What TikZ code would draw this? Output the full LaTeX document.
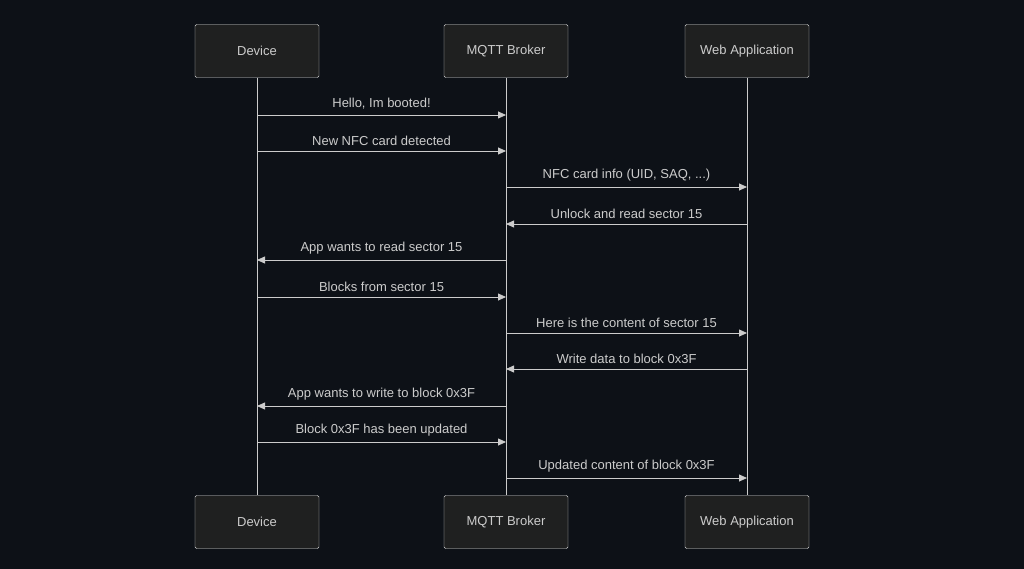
\documentclass[tikz,border=0pt]{standalone}
\usepackage{fontspec}
\setmainfont{Liberation Sans}
\usetikzlibrary{arrows.meta}
\definecolor{bgc}{HTML}{0D1117}
\definecolor{boxc}{HTML}{1F2020}
\definecolor{linec}{HTML}{CCCCCC}
\begin{document}
\begin{tikzpicture}[x=1pt,y=-1pt,
    actor/.style={draw=linec!70,fill=boxc,rounded corners=1.5pt,minimum width=124pt,minimum height=53pt,text=linec,font=\fontsize{13}{15}\selectfont},
    msg/.style={draw=linec,line width=0.8pt,-{Triangle[length=8pt,width=7pt]}},
    lbl/.style={text=linec,font=\fontsize{13}{15}\selectfont,above=2pt}]
    \fill[bgc] (0,0) rectangle (1024,569);
    \useasboundingbox (0,0) rectangle (1024,569);

    % Actors
    \node[actor] (dev) at (257,51) {Device};
    \node[actor] (brk) at (506,51) {MQTT Broker};
    \node[actor] (web) at (747,51) {Web Application};
    \node[actor] (devb) at (257,522) {Device};
    \node[actor] (brkb) at (506,522) {MQTT Broker};
    \node[actor] (webb) at (747,522) {Web Application};

    % Lifelines
    \draw[linec,line width=0.8pt] (dev) -- (devb) (brk) -- (brkb) (web) -- (webb);

    % Messages
    \foreach \y/\a/\b/\t [count=\i] in {
        115/257/506/{Hello, Im booted!},
        151/257/506/{New NFC card detected},
        187/506/747/{NFC card info (UID, SAQ, ...)},
        224/747/506/{Unlock and read sector 15},
        260/506/257/{App wants to read sector 15},
        297/257/506/{Blocks from sector 15},
        333/506/747/{Here is the content of sector 15},
        369/747/506/{Write data to block 0x3F},
        406/506/257/{App wants to write to block 0x3F},
        442/257/506/{Block 0x3F has been updated},
        478/506/747/{Updated content of block 0x3F}}{
        \coordinate (s\i) at (\a,\y);
        \coordinate (e\i) at (\b,\y);
        \draw[msg] (s\i) -- (e\i) node[lbl,midway] {\t};
    }
\end{tikzpicture}
\end{document}
